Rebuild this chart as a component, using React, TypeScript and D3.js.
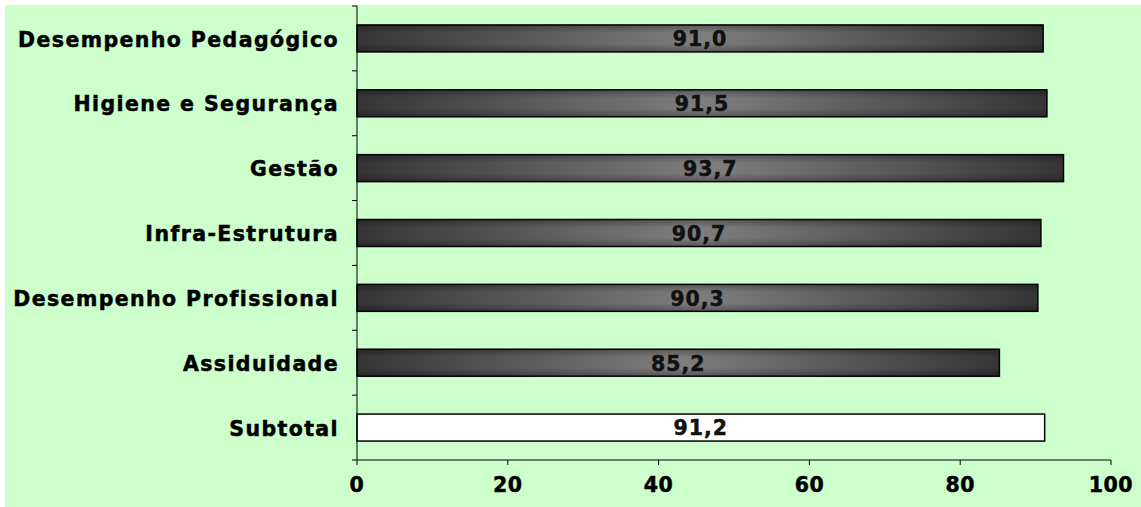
import React from "react";
import * as d3 from "d3";

const categories = [
  "Desempenho Pedagógico",
  "Higiene e Segurança",
  "Gestão",
  "Infra-Estrutura",
  "Desempenho Profissional",
  "Assiduidade",
  "Subtotal",
];
const values = [91.0, 91.5, 93.7, 90.7, 90.3, 85.2, 91.2];
const xTicks = [0, 20, 40, 60, 80, 100];

const W = 1141;
const H = 507;
const left = 357;
const right = 1111;
const top = 6;
const bottom = 460;
const FONT = "'DejaVu Sans', Verdana, sans-serif";

export default function App() {
  const x = d3.scaleLinear().domain([0, 100]).range([left, right]);
  const y = d3
    .scaleBand<string>()
    .domain(categories)
    .range([top, bottom])
    .paddingInner(0.584)
    .paddingOuter(0.292);
  const step = y.step();
  const bw = y.bandwidth();
  const catTicks = d3.range(categories.length + 1).map((i) => top + i * step);
  const fmt = (v: number) => v.toFixed(1).replace(".", ",");

  return (
    <svg
      width={W}
      height={H}
      style={{ position: "absolute", left: 0, top: 0, display: "block" }}
    >
      <defs>
        <linearGradient id="barH" x1="0" y1="0" x2="1" y2="0">
          <stop offset="0" stopColor="#353535" />
          <stop offset="0.5" stopColor="#7e7e7e" />
          <stop offset="1" stopColor="#353535" />
        </linearGradient>
        <linearGradient id="barV" x1="0" y1="0" x2="0" y2="1">
          <stop offset="0" stopColor="#000" stopOpacity="0.3" />
          <stop offset="0.3" stopColor="#000" stopOpacity="0" />
          <stop offset="0.7" stopColor="#000" stopOpacity="0" />
          <stop offset="1" stopColor="#000" stopOpacity="0.3" />
        </linearGradient>
      </defs>
      <rect x={0} y={0} width={W} height={H} fill="#ffffff" />
      <rect x={5} y={5} width={W - 5} height={H - 5} fill="#ccffcc" />

      {categories.map((c, i) => {
        const v = values[i];
        const yy = y(c)!;
        const isTotal = c === "Subtotal";
        const w = x(v) - x(0);
        return (
          <g key={c}>
            <rect
              x={x(0)}
              y={yy}
              width={w}
              height={bw}
              fill={isTotal ? "#ffffff" : "url(#barH)"}
            />
            {!isTotal && (
              <rect x={x(0)} y={yy} width={w} height={bw} fill="url(#barV)" />
            )}
            <rect
              x={x(0)}
              y={yy}
              width={w}
              height={bw}
              fill="none"
              stroke="#000"
              strokeWidth={1.5}
            />
            <text
              x={x(0) + w / 2}
              y={yy + bw / 2}
              dy="0.38em"
              textAnchor="middle"
              fontFamily={FONT}
              fontWeight="bold"
              fontSize={20.5}
              fill="#111"
              stroke="#111"
              strokeWidth={0.5}
              letterSpacing={1}
            >
              {fmt(v)}
            </text>
            <text
              x={339}
              y={yy + bw / 2}
              dy="0.4em"
              textAnchor="end"
              fontFamily={FONT}
              fontWeight="bold"
              fontSize={20.5}
              fill="#000"
              stroke="#000"
              strokeWidth={0.5}
              letterSpacing={1.4}
            >
              {c}
            </text>
          </g>
        );
      })}

      {/* category axis */}
      <line x1={left} x2={left} y1={top} y2={bottom} stroke="#000" strokeWidth={1} />
      {catTicks.map((t, i) => (
        <line key={i} x1={left - 5} x2={left} y1={t} y2={t} stroke="#000" strokeWidth={1} />
      ))}

      {/* value axis */}
      <line x1={left} x2={right} y1={bottom} y2={bottom} stroke="#000" strokeWidth={1} />
      {xTicks.map((t) => (
        <g key={t}>
          <line x1={x(t)} x2={x(t)} y1={bottom} y2={bottom + 5} stroke="#000" strokeWidth={1} />
          <text
            x={x(t)}
            y={485}
            dy="0.36em"
            textAnchor="middle"
            fontFamily={FONT}
            fontWeight="bold"
            fontSize={20.5}
            fill="#000"
            stroke="#000"
            strokeWidth={0.5}
            letterSpacing={0.5}
          >
            {t}
          </text>
        </g>
      ))}
    </svg>
  );
}
